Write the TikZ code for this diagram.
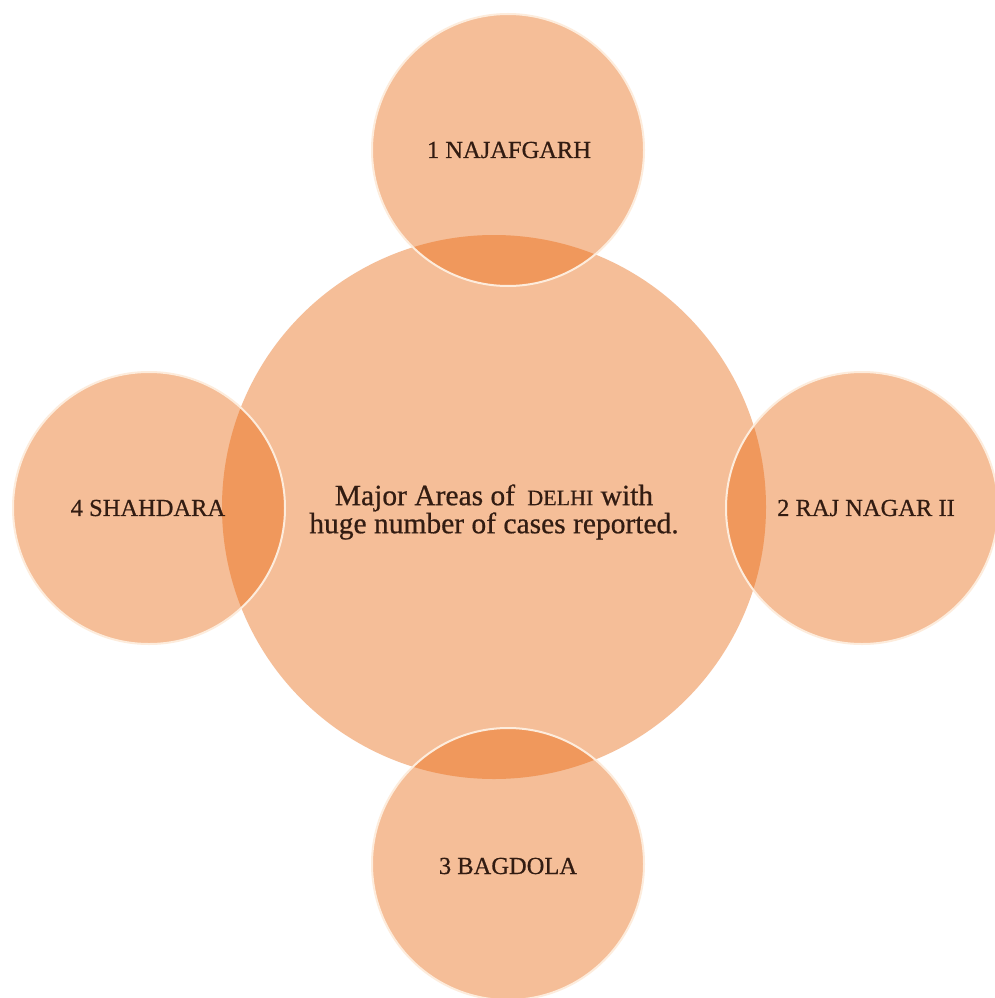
\documentclass[tikz,border=0pt]{standalone}
\usepackage{fontspec}
\setmainfont[FakeBold=0.6]{Liberation Serif}
\definecolor{basefill}{RGB}{245,190,152}
\definecolor{lensfill}{RGB}{240,152,92}
\definecolor{rimcol}{RGB}{253,236,220}
\definecolor{txtcol}{RGB}{50,28,18}
\tikzset{
  hub/.style={circle, fill=basefill, draw=none, inner sep=0pt, minimum size=544pt},
  sat/.style={circle, fill=basefill, draw=none, inner sep=0pt, minimum size=272pt},
  rim/.style={draw=rimcol, line width=2pt},
  lens/.style={fill=lensfill},
  satlabel/.style={text=txtcol, font=\fontsize{24.5}{28}\selectfont},
  hublabel/.style={text=txtcol, align=center, font=\fontsize{29.5}{27}\selectfont}
}
\begin{document}
\begin{tikzpicture}[x=1pt,y=-1pt]
\useasboundingbox (0,0) rectangle (995,998);
\fill[white] (0,0) rectangle (995,998);
% circles
\node[hub] (hub) at (494,507) {};
\node[sat] (s1) at (508,150) {};
\node[sat] (s2) at (862,508) {};
\node[sat] (s3) at (508,864) {};
\node[sat] (s4) at (149,508) {};
% overlaps
\begin{scope}
  \clip (hub.center) circle (272pt);
  \fill[lens] (s1.center) circle (136pt);
  \fill[lens] (s2.center) circle (136pt);
  \fill[lens] (s3.center) circle (136pt);
  \fill[lens] (s4.center) circle (136pt);
\end{scope}
% rims
\foreach \s in {s1,s2,s3,s4} { \draw[rim] (\s.center) circle (136pt); }
% labels
\node[satlabel] (t1) at (509,150) {1 NAJAFGARH};
\node[satlabel] (t2) at (866,508) {2 RAJ NAGAR II};
\node[satlabel] (t3) at (508,866) {3 BAGDOLA};
\node[satlabel] (t4) at (148,508) {4 SHAHDARA};
\node[hublabel] (tc) at (494,512)
  {Major Areas of \,{\fontsize{22}{27}\selectfont DELHI} with\\huge number of cases reported.};
\end{tikzpicture}
\end{document}
